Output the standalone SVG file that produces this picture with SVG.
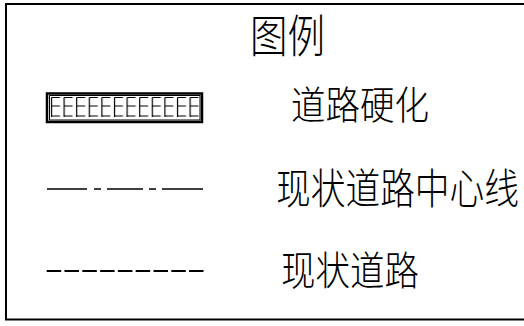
<svg xmlns="http://www.w3.org/2000/svg" width="524" height="326" viewBox="0 0 524 326">
<style>
.t{font-family:"Noto Sans CJK SC","Noto Sans",sans-serif;font-weight:300;fill:#000}
.ln{stroke:#000;fill:none}
</style>
<defs>
<pattern id="brick" x="49" y="95" width="12.6" height="25" patternUnits="userSpaceOnUse">
<path d="M2.5 2.5V22M2.5 2.5H11M2.5 11H11M2.5 21H11" stroke="#000" stroke-width="1.2" fill="none"/>
</pattern>
</defs>
<rect x="6" y="4" width="530" height="315.5" fill="#fff" stroke="#000" stroke-width="2"/>
<g id="title"><text class="t" transform="translate(250,52.5) scale(1,1.25)" x="0" y="0" font-size="36" textLength="75" lengthAdjust="spacingAndGlyphs">图例</text></g>
<g id="legend-hardened">
<rect x="49" y="95" width="151" height="25" fill="url(#brick)"/>
<rect x="47" y="93.5" width="155" height="28.5" class="ln" stroke-width="2.5"/>
<rect x="49.5" y="95.5" width="150.5" height="24.5" class="ln" stroke-width="1"/>
<text class="t" transform="translate(291,118.5) scale(1,1.12)" x="0" y="0" font-size="35" textLength="138" lengthAdjust="spacingAndGlyphs">道路硬化</text>
</g>
<g id="legend-centerline">
<path class="ln" stroke-width="1.4" d="M47 189H87M94 189H101M107 189H143M149 189H156M162 189H203"/>
<text class="t" transform="translate(276,204) scale(1,1.2)" x="0" y="0" font-size="35" textLength="243" lengthAdjust="spacingAndGlyphs">现状道路中心线</text>
</g>
<g id="legend-road">
<path class="ln" stroke-width="2" stroke-dasharray="14.5 3.3" d="M46.7 271H203.5"/>
<text class="t" transform="translate(281,284.5) scale(1,1.15)" x="0" y="0" font-size="35" textLength="138" lengthAdjust="spacingAndGlyphs">现状道路</text>
</g>
</svg>
